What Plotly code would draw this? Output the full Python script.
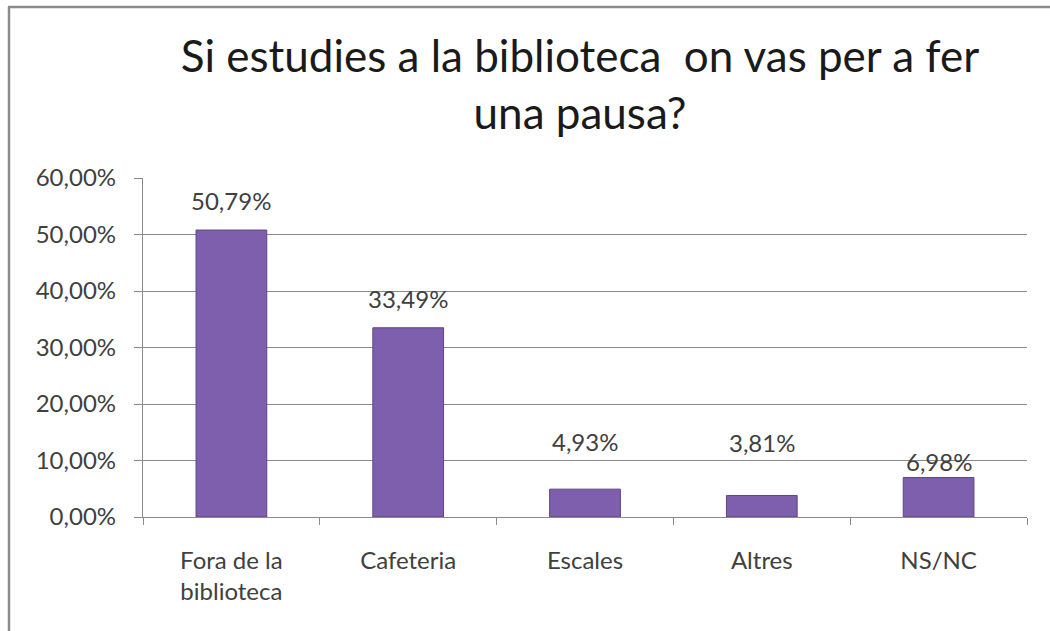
import plotly.graph_objects as go

categories = ["Fora de la<br>biblioteca", "Cafeteria", "Escales", "Altres", "NS/NC"]
values = [0.5079, 0.3349, 0.0493, 0.0381, 0.0698]
label_gap_px = [18, 18, 36, 41, 5]  # vertical gap between bar top and its label

W, H = 1050, 631
ML, MR, MT, MB = 143, 23, 178, 114
PW, PH = W - ML - MR, H - MT - MB

def px_to_paper_x(p):
    return (p - ML) / PW

def px_to_paper_y(p):
    return (H - MB - p) / PH

FONT = "Lato"
TXT = "#404040"
GRID = "#8a8a8a"

fig = go.Figure()
fig.add_trace(go.Bar(
    x=categories, y=values, width=0.4,
    marker=dict(color="#7e5fae", line=dict(color="#5c4583", width=1)),
    hoverinfo="skip",
))

for c, v, g in zip(categories, values, label_gap_px):
    fig.add_annotation(
        x=c, y=v, xref="x", yref="y",
        text=f"{v*100:.2f}%".replace(".", ","),
        showarrow=False, yanchor="bottom", yshift=g - 5,
        font=dict(family=FONT, size=24, color=TXT),
    )

# outer chart frame (left and top edges visible)
fig.add_shape(type="line", xref="paper", yref="paper",
              x0=px_to_paper_x(9), x1=px_to_paper_x(9),
              y0=px_to_paper_y(7), y1=px_to_paper_y(640),
              line=dict(color="#8c8c8c", width=2.5))
fig.add_shape(type="line", xref="paper", yref="paper",
              x0=px_to_paper_x(8), x1=px_to_paper_x(1060),
              y0=px_to_paper_y(7), y1=px_to_paper_y(7),
              line=dict(color="#8c8c8c", width=2.5))

fig.update_layout(
    width=W, height=H,
    margin=dict(l=ML, r=MR, t=MT, b=MB),
    paper_bgcolor="white", plot_bgcolor="white",
    separators=",.",
    showlegend=False,
    bargap=0.6,
    title=dict(
        text="Si estudies a la biblioteca \u00a0on vas per a fer<br>una pausa?",
        font=dict(family=FONT, size=44, color="#1a1a1a"),
        x=580 / W, xanchor="center", xref="container",
        y=1 - 72 / H, yanchor="top", yref="container",
    ),
    xaxis=dict(
        showline=True, linecolor=GRID, linewidth=1.3,
        ticks="outside", tickson="boundaries", ticklen=7, tickcolor=GRID,
        tickfont=dict(family=FONT, size=24, color=TXT),
        ticklabelstandoff=22,
        showgrid=False,
    ),
    yaxis=dict(
        range=[0, 0.6], dtick=0.1, tickformat=".2%",
        showline=True, linecolor=GRID, linewidth=1.3,
        ticks="outside", ticklen=8, tickcolor=GRID,
        ticklabelstandoff=13,
        showgrid=True, gridcolor=GRID, gridwidth=1.3,
        zeroline=False,
        tickfont=dict(family=FONT, size=24, color=TXT),
    ),
)

fig.write_html("out.html", config={"displayModeBar": False},
               post_script="document.body.style.margin='0px';")
